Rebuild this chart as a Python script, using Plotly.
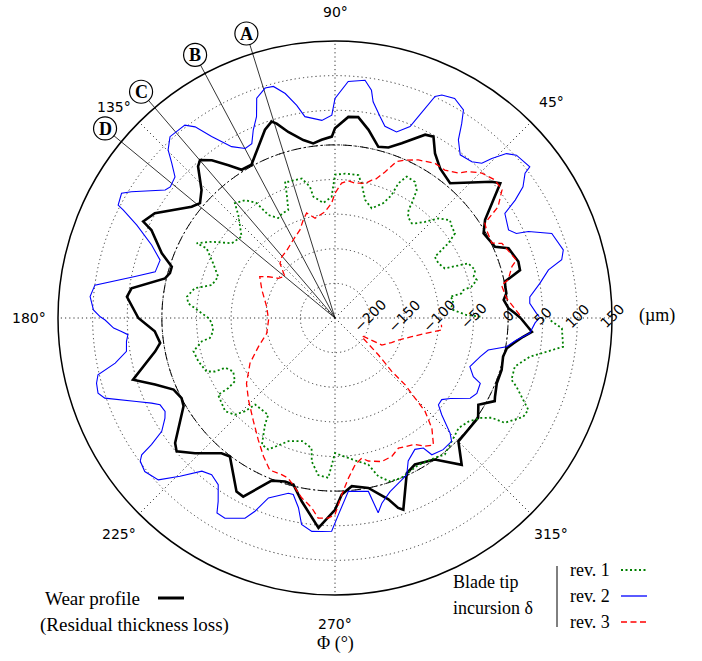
import numpy as np
import plotly.graph_objects as go

# ---------------- data ----------------
# Wear profile (residual thickness loss), um
wear_theta = [0, 1.5, 3.2, 6.1, 8.2, 10.4, 12.1, 14.5, 17.1, 21.9, 24, 29.7, 33.2, 39.2, 41, 49.5,
              54.9, 58.7, 61.5, 63.8, 69.1, 72.6, 75.8, 79.9, 83.4, 86.2, 90, 91, 94.3, 97.1, 100.1,
              104.1, 106.7, 107.9, 110.4, 116.1, 118.6, 122.2, 124.9, 128, 130.5, 132.1, 136.2,
              139.6, 142.2, 149.8, 153.3, 154.4, 159.5, 162.6, 164.8, 166.9, 171.7, 174.2, 180,
              184.2, 188.1, 190.5, 197, 200.3, 203.9, 207.6, 210.2, 218, 220.1, 224, 230, 232.8,
              240.4, 242.8, 248.7, 253, 256, 259.7, 265.5, 270, 272.2, 275.7, 281.1, 286.4, 288.4,
              289.6, 294.8, 298.6, 305.2, 310.8, 315, 325.1, 328.8, 332.5, 333.8, 338, 342.7,
              347.1, 350, 351.9, 354.3, 356, 360]
wear_r = [18, 10, 1, -5, 0, 0, 1, 26, 27, 20, 3, -3, 9, 58, 50, 6,
          14, 28, 48, 45, 20, 8, 5, 26, 42, 41, 24, 12, 8, 4, 11,
          27, 43, 48, 40, 12, 2, 3, 19, 39, 50, 45, 17,
          6, 12, 51, 60, 44, 17, -3, -3, 2, 47, 52, 34,
          11, 5, 14, 55, 27, 5, 0, 3, 43, 49, 31, 5, 1,
          38, 40, 2, -3, -2, 19, 54, 27, 5, -6, 0, 23, 39,
          44, -3, -9, 0, 30, 2, 2, -8, 10, 7.5, 2, 2,
          -1, 2, 10, 23, 35, 18]

# Blade tip incursion, revolution 1
rev1_theta = [0.5, 1.3, 3.9, 5.5, 8.7, 10.5, 11, 12.3, 12.9, 15, 16.6, 18.9, 22.3, 24.3, 27.9, 31.5,
              33.4, 35.2, 38, 40.4, 44, 46.9, 49.8, 51, 54.1, 55.8, 56.2, 57.4, 59.6, 63.1, 64.8,
              65.3, 67.2, 71.5, 75.7, 78.8, 80.7, 82, 86, 90, 91.6, 95.8, 100.1, 100.8, 103.4,
              108.9, 110.1, 111.2, 113.4, 117, 119.6, 122.9, 124.3, 127.3, 131.1, 133.2, 138.9,
              144.1, 148.2, 151.6, 151.5, 155.8, 160.5, 165, 168, 171.8, 174.3, 180, 182.3, 186.2,
              189.1, 189.9, 193.2, 197.6, 202.6, 204, 204.4, 207.7, 212.3, 213.3, 213.3, 220.3,
              224, 226, 227.3, 235.4, 236.7, 240, 243.1, 245.6, 249.3, 255.1, 259.8, 260.8, 263.9,
              267.6, 270, 275.4, 279.2, 282.8, 285.3, 288.6, 292.6, 299.6, 305.5, 308.8, 312.2,
              315.8, 318.3, 322.2, 325.7, 327.5, 328.3, 332.3, 334.6, 337.2, 339.3, 340.7, 344.9,
              348.8, 351, 352.8, 357.4, 359.5]
rev1_r = [-40, -60, -79, -81, -77, -81, -64, -60, -48, -38, -41, -36, -42, -76, -81, -81,
          -54, -38, -36, -32, -43, -60, -71, -74, -70, -61, -51, -31, -22, -21, -35,
          -55, -70, -83, -74, -52, -41, -41, -41, -43, -75, -83, -72, -57, -43,
          -42, -40, -57, -80, -81, -84, -73, -49, -36, -30, -46, -71,
          -66, -41, -23, -39, -57, -71, -66, -43, -34, -37, -67, -72, -73,
          -67, -55, -40, -43, -49, -60, -76, -84, -79, -66, -48, -42,
          -49, -63, -80, -80, -66, -39, -37, -47, -60, -66, -59, -40, -22,
          -19, -55, -47, -40, -33, -13, -1, 0, -6, -2, 3, -3,
          -8, -11, -6, 6, 18, 38, 57, 59, 42, 30, 20, 19,
          37, 60, 82, 78, 60]

# Blade tip incursion, revolution 2
rev2_theta = [0.4, 1.3, 4.3, 6.2, 9.6, 12.7, 14.4, 16.6, 21.3, 24.1, 25, 26.9, 31.6, 33.2, 34.9,
              37.3, 37.8, 41.9, 43.8, 45.5, 46.5, 48.8, 52.5, 55.3, 56.9, 58.3, 61.4, 64.4, 65.7,
              67.5, 68.6, 71.7, 75.4, 77.4, 80, 80.9, 82.8, 86.8, 90, 90.9, 93.8, 98.5, 100.2,
              102.5, 104.9, 106.9, 109.6, 111.3, 113.5, 115.5, 117.9, 121.1, 124.2, 126.2, 127.9,
              132.3, 134.8, 136.5, 138.6, 141.5, 143, 148.2, 149.7, 152.5, 153, 154.9, 158.3,
              161.7, 165.6, 168.3, 172.2, 175, 178.1, 179.7, 180.5, 182.6, 183.6, 184.6, 186.4,
              189.1, 191.6, 193.5, 195.3, 197.6, 199.2, 202.8, 204.9, 206.4, 208.8, 210.5, 213.2,
              214.6, 215.3, 216.3, 218.9, 222.5, 225.6, 229, 231.8, 235, 237.5, 238.8, 241.2,
              245.8, 247.5, 249.7, 255.1, 256.7, 259.1, 260.8, 263.8, 266.4, 269.1, 271, 274.4,
              280.9, 282.5, 284.2, 287.6, 294.6, 297.1, 301.3, 304.2, 305.3, 309.4, 313.4, 315,
              317.8, 320, 322.6, 325.1, 329.3, 332, 335.8, 337, 340.2, 345.1, 348.2, 350.5, 353.1,
              355.5, 358.6, 360]
rev2_r = [45, 41, 32, 33, 50, 66, 88, 94, 86, 56, 39, 31, 38, 61, 81,
          95, 106, 102, 93, 73, 58, 50, 47, 63, 85, 103, 111, 107, 101,
          65, 47, 33, 36, 48, 67, 83, 96, 92, 67, 43, 36, 44, 62,
          82, 96, 97, 87, 62, 46, 29, 27, 39, 67, 92, 103,
          104, 92, 75, 58, 54, 57, 96, 107, 103, 93, 66, 35,
          16, 18, 45, 100, 105, 99, 89, 82, 70, 59, 50, 53,
          55, 74, 102, 107, 109, 102, 61, 42, 32, 30, 35, 49,
          72, 92, 99, 103, 96, 70, 43, 38, 44, 64, 79, 80,
          67, 52, 27, 12, 12, 29, 52, 60, 59, 58, 34, 1,
          5, 38, 26, 13, -1, -18, -28, -23, -8, -4, -5, -15,
          -42, -55, -56, -47, -23, -18, -20, -33, -43, -33, -24, 1, 14,
          32, 39, 45]

# Blade tip incursion, revolution 3
rev3_theta = [0.9, 6.5, 11.2, 12.4, 16.2, 17.7, 24.1, 25.5, 30.1, 32.3, 34.3, 37.5, 40.8, 44.6,
              47.7, 49.6, 53.4, 57.1, 62.2, 66.1, 68.5, 71.1, 73.8, 75.1, 77.4, 79.5, 81.6, 84.5,
              87.2, 90, 91.7, 95.4, 101.3, 105.1, 107.9, 111.7, 118.1, 125.4, 131, 135.2, 140.4,
              145, 148.2, 151.2, 159.1, 170.6, 181.7, 192.6, 200.5, 208, 216.5, 223.4, 231.3,
              237.8, 242.7, 246.8, 251.2, 253.7, 256.8, 259.5, 263, 265.2, 268.1, 270, 272.2,
              274.8, 277.8, 280.8, 283.1, 288, 292.3, 296, 302.3, 305, 307.8, 311.3, 314, 315,
              316.4, 316.8, 319.7, 325, 327.1, 330, 336.5, 340.8, 346.3, 350.3, 353.6, 356.4]
rev3_r = [17, -0.5, -5, 6, 16, 25, 14, 1, 3, 6, 35, 54, 55, 48,
          36, 25, 16, 16, 8, -0.5, -7, -27, -42, -44, -51, -52, -53, -51,
          -55, -70, -84, -96, -103, -93, -101, -113, -122, -130, -133, -138, -156,
          -150, -137, -126, -137, -150, -154, -149, -132, -111, -91, -78, -61,
          -42, -25, -11, -11, -9, 2, 14, 26, 40, 39, 34, 5,
          -18, -36, -44, -38, -32, -34, -41, -34, -24, -18, -38, -63, -87,
          -110, -138, -168, -203, -201, -172, -161, -153, -136, -118, -95, -96]

# Marked angular positions A-D (deg)
mark_labels = ["A", "B", "C", "D"]
mark_theta = [107.3, 118.0, 130.6, 140.5]

R_MIN, R_MAX = -250, 150
radial_ticks = [-200, -150, -100, -50, 0, 50, 100, 150]
radial_ticktext = ["\u2212200", "\u2212150", "\u2212100", "\u221250", "0", "50", "100", "150"]
angular_ticks = [0, 45, 90, 135, 180, 225, 270, 315]
angular_ticktext = ["", "45\u00b0", "90\u00b0", "135\u00b0", "180\u00b0", "225\u00b0", "270\u00b0", "315\u00b0"]

# ---------------- figure ----------------
W, H = 702, 661
CX, CY, RAD = 335, 318, 277  # polar centre / radius in pixels


def px(x):
    return x / W


def py(y):
    return 1 - y / H


def polar_px(dist, theta_deg):
    """pixel position of a point `dist` pixels from the centre at angle theta"""
    t = np.deg2rad(theta_deg)
    return CX + dist * np.cos(t), CY - dist * np.sin(t)


def r_to_dist(r):
    return (r - R_MIN) / (R_MAX - R_MIN) * RAD


fig = go.Figure()

# reference lines A-D (inside the polar frame)
for lab, th in zip(mark_labels, mark_theta):
    fig.add_trace(go.Scatterpolar(r=[R_MIN, R_MAX], theta=[th, th], mode="lines",
                                  line=dict(color="black", width=0.8), hoverinfo="skip"))

# zero-incursion reference circle (dash-dot)
ring_theta = list(range(0, 361))
fig.add_trace(go.Scatterpolar(r=[0] * len(ring_theta), theta=ring_theta, mode="lines",
                              line=dict(color="black", width=1, dash="9px,3px,2px,3px"),
                              hoverinfo="skip"))

fig.add_trace(go.Scatterpolar(r=wear_r, theta=wear_theta, mode="lines",
                              line=dict(color="black", width=2.6), name="Wear profile"))
fig.add_trace(go.Scatterpolar(r=rev1_r, theta=rev1_theta, mode="lines",
                              line=dict(color="#008000", width=1.8, dash="2px,2.5px"), name="rev. 1"))
fig.add_trace(go.Scatterpolar(r=rev2_r, theta=rev2_theta, mode="lines",
                              line=dict(color="#0000ff", width=1.1), name="rev. 2"))
fig.add_trace(go.Scatterpolar(r=rev3_r, theta=rev3_theta, mode="lines",
                              line=dict(color="#ff0000", width=1.3, dash="6px,3.5px"), name="rev. 3"))

grid_col = "#333333"
fig.update_layout(
    width=W, height=H, margin=dict(l=0, r=0, t=0, b=0),
    paper_bgcolor="white", showlegend=False,
    polar=dict(
        domain=dict(x=[px(CX - RAD), px(CX + RAD)], y=[py(CY + RAD), py(CY - RAD)]),
        bgcolor="white",
        radialaxis=dict(range=[R_MIN, R_MAX], tickvals=radial_ticks, ticktext=radial_ticktext,
                        angle=0, showline=False, ticks="", showticklabels=False,
                        gridcolor=grid_col, griddash="1.2px,3px", gridwidth=1),
        angularaxis=dict(tickvals=angular_ticks, ticktext=angular_ticktext,
                         direction="counterclockwise", rotation=0,
                         linecolor="black", linewidth=1.5, showline=True,
                         gridcolor=grid_col, griddash="1.2px,3px", gridwidth=1,
                         ticks="", showticklabels=False),
    ),
)

serif = "Liberation Serif"
sans = "DejaVu Sans"
ann = []
shapes = []

# angular tick labels, centred at a fixed distance outside the frame
label_nudge = {135: (-5, 5)}
for t, txt in zip(angular_ticks, angular_ticktext):
    if not txt:
        continue
    x, y = polar_px(RAD + 29, t)
    dx, dy = label_nudge.get(t, (0, 0))
    ann.append(dict(x=px(x + dx), y=py(y + dy), text=txt, showarrow=False, xanchor="center", yanchor="middle",
                    font=dict(family=sans, size=14, color="black")))

# radial tick labels, rotated and centred on the 0 deg axis
for t, txt in zip(radial_ticks, radial_ticktext):
    x, y = polar_px(r_to_dist(t), 0)
    ann.append(dict(x=px(x), y=py(y - 2), text=txt, showarrow=False, xanchor="center", yanchor="middle",
                    textangle=-45, font=dict(family=sans, size=14, color="black")))

ann.append(dict(x=px(657), y=py(315), text="(\u00b5m)", showarrow=False, xanchor="center", yanchor="middle",
                font=dict(family=serif, size=18, color="black")))
ann.append(dict(x=px(335), y=py(643), text="\u03a6 (\u00b0)", showarrow=False, xanchor="center", yanchor="middle",
                font=dict(family=serif, size=18, color="black")))

# marker labels A-D: line extension outside the frame, circle and letter
LBL_DIST, LBL_RAD = 298, 11.5
for lab, th in zip(mark_labels, mark_theta):
    x0, y0 = polar_px(RAD, th)
    x1, y1 = polar_px(LBL_DIST - LBL_RAD, th)
    shapes.append(dict(type="line", xref="paper", yref="paper", x0=px(x0), y0=py(y0), x1=px(x1), y1=py(y1),
                       line=dict(color="black", width=0.8)))
    xc, yc = polar_px(LBL_DIST, th)
    shapes.append(dict(type="circle", xref="paper", yref="paper",
                       x0=px(xc - LBL_RAD), x1=px(xc + LBL_RAD), y0=py(yc + LBL_RAD), y1=py(yc - LBL_RAD),
                       line=dict(color="black", width=1.2), fillcolor="white"))
    ann.append(dict(x=px(xc), y=py(yc + 0.5), text="<b>%s</b>" % lab, showarrow=False, xanchor="center",
                    yanchor="middle", font=dict(family=serif, size=18, color="black")))

# legend block
ann.append(dict(x=px(43), y=py(598), text="Wear profile", showarrow=False, xanchor="left", yanchor="middle",
                font=dict(family=serif, size=19, color="black")))
ann.append(dict(x=px(134), y=py(625), text="(Residual thickness loss)", showarrow=False, xanchor="center",
                yanchor="middle", font=dict(family=serif, size=19, color="black")))
ann.append(dict(x=px(451), y=py(582), text="Blade tip", showarrow=False, xanchor="left", yanchor="middle",
                font=dict(family=serif, size=18, color="black")))
ann.append(dict(x=px(451), y=py(608), text="incursion \u03b4", showarrow=False, xanchor="left", yanchor="middle",
                font=dict(family=serif, size=18, color="black")))
for i, t in enumerate(["rev. 1", "rev. 2", "rev. 3"]):
    ann.append(dict(x=px(568), y=py(570 + 26 * i), text=t, showarrow=False, xanchor="left", yanchor="middle",
                    font=dict(family=serif, size=18, color="black")))

shapes.append(dict(type="line", xref="paper", yref="paper", x0=px(158), x1=px(184), y0=py(598), y1=py(598),
                   line=dict(color="black", width=3)))
shapes.append(dict(type="line", xref="paper", yref="paper", x0=px(557), x1=px(557), y0=py(566), y1=py(627),
                   line=dict(color="black", width=1)))
styles = [dict(color="#008000", width=1.8, dash="2px,2.5px"), dict(color="#0000ff", width=1.3),
          dict(color="#ff0000", width=1.3, dash="6px,3.5px")]
for i, st in enumerate(styles):
    shapes.append(dict(type="line", xref="paper", yref="paper", x0=px(621), x1=px(647),
                       y0=py(570 + 26 * i), y1=py(570 + 26 * i), line=st))

fig.update_layout(annotations=ann, shapes=shapes)
fig.write_html("out.html")
